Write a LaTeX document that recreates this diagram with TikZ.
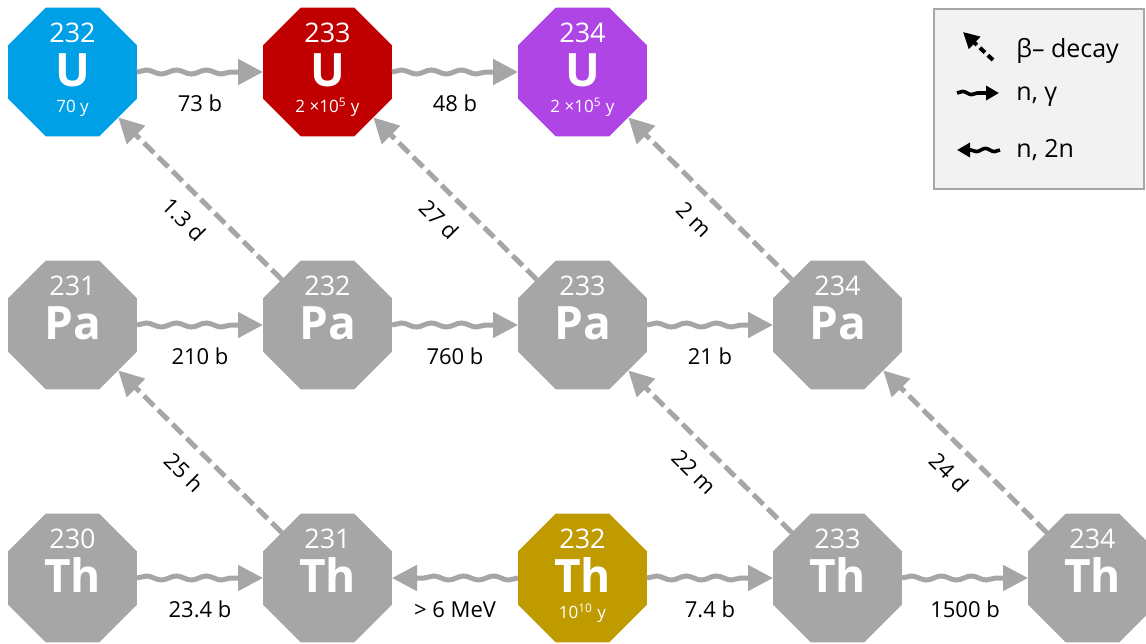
\documentclass[tikz,border=0pt]{standalone}
\usepackage{fontspec}
\setmainfont{Open Sans}
\usetikzlibrary{shapes.geometric,arrows.meta,decorations.pathmorphing,calc}

\definecolor{nucgray}{HTML}{A6A6A6}
\definecolor{ublue}{HTML}{00A0E6}
\definecolor{ured}{HTML}{C00000}
\definecolor{upurple}{HTML}{B045E6}
\definecolor{thgold}{HTML}{BF9B00}
\definecolor{legfill}{HTML}{F2F2F2}
\definecolor{legedge}{HTML}{A6A6A6}

\tikzset{
  octa/.style={regular polygon, regular polygon sides=8, minimum size=69.8pt,
    inner sep=0pt, outer sep=0pt, draw=none},
  massno/.style={anchor=base, text=white, inner sep=0pt,
    font=\fontsize{13.5}{14}\selectfont},
  elem/.style={anchor=base, text=white, inner sep=0pt,
    font=\fontsize{23}{24}\selectfont\bfseries},
  life/.style={anchor=base, text=white, inner sep=0pt,
    font=\fontsize{8.5}{9}\selectfont},
  capture/.style={draw=nucgray, line width=2.5pt, decorate,
    decoration={snake, amplitude=1pt, segment length=15pt, post length=12.5pt},
    -{Triangle[length=12.5pt,width=12.5pt]}},
  decay/.style={draw=nucgray, line width=2.5pt, dash pattern=on 7pt off 3pt,
    -{Triangle[length=12.5pt,width=12.5pt]}},
  xslbl/.style={anchor=base, inner sep=0pt, font=\fontsize{11}{12}\selectfont},
  hlbl/.style={anchor=center, inner sep=0pt, rotate=-45,
    font=\fontsize{11}{12}\selectfont},
  legtext/.style={anchor=base west, inner sep=0pt,
    font=\fontsize{12.5}{13}\selectfont},
  legdecay/.style={draw=black, line width=2pt, dash pattern=on 3.5pt off 2pt,
    -{Triangle[length=8pt,width=8pt]}},
  legwave/.style={draw=black, line width=1.8pt, decorate,
    decoration={snake, amplitude=0.8pt, segment length=9pt, post length=6.5pt},
    -{Triangle[length=6.5pt,width=7pt]}},
}

% nuclide: name, x, y, fill, mass number, symbol, half-life
\newcommand\nucl[7]{%
  \node[octa, fill=#4] (#1) at (#2,#3) {};
  \node[massno] (#1-a) at ($(#1)+(0,-30)$) {#5};
  \node[elem] (#1-s) at ($(#1)+(0,14.5)$) {#6};
  \node[life] (#1-t) at ($(#1)+(0,40)$) {#7};
}

\begin{document}
\begin{tikzpicture}[x=0.5pt, y=-0.5pt]
\useasboundingbox (0,0) rectangle (1146,643);

% uranium row
\nucl{U232}{72.5}{72}{ublue}{232}{U}{70 y}
\nucl{U233}{327.5}{72}{ured}{233}{U}{2 ×10\textsuperscript{5} y}
\nucl{U234}{582.5}{72}{upurple}{234}{U}{2 ×10\textsuperscript{5} y}

% protactinium row
\nucl{Pa231}{72.5}{325}{nucgray}{231}{Pa}{}
\nucl{Pa232}{327.5}{325}{nucgray}{232}{Pa}{}
\nucl{Pa233}{582.5}{325}{nucgray}{233}{Pa}{}
\nucl{Pa234}{837.5}{325}{nucgray}{234}{Pa}{}

% thorium row
\nucl{Th230}{72.5}{578}{nucgray}{230}{Th}{}
\nucl{Th231}{327.5}{578}{nucgray}{231}{Th}{}
\nucl{Th232}{582.5}{578}{thgold}{232}{Th}{10\textsuperscript{10} y}
\nucl{Th233}{837.5}{578}{nucgray}{233}{Th}{}
\nucl{Th234}{1092.5}{578}{nucgray}{234}{Th}{}

% neutron capture / (n,2n) reactions
\foreach \a/\b/\t in {U232/U233/73 b, U233/U234/48 b,
    Pa231/Pa232/210 b, Pa232/Pa233/760 b, Pa233/Pa234/21 b,
    Th230/Th231/23.4 b, Th232/Th231/{> 6 MeV}, Th232/Th233/7.4 b,
    Th233/Th234/1500 b}{
  \draw[capture] (\a) -- (\b);
  \node[xslbl] (lbl-\a-\b) at ($(\a)!0.5!(\b)+(0,39)$) {\t};
}

% beta-minus decays
\foreach \a/\b/\t in {Pa232/U232/1.3 d, Pa233/U233/27 d, Pa234/U234/2 m,
    Th231/Pa231/25 h, Th233/Pa233/22 m, Th234/Pa234/24 d}{
  \draw[decay] (\a) -- (\b);
  \node[hlbl] (lbl-\a-\b) at ($(\a)!0.5!(\b)+(-16,21)$) {\t};
}

% legend
\node[draw=legedge, fill=legfill, line width=1pt, anchor=north west,
  minimum width=105pt, minimum height=90pt, inner sep=0pt] (legend) at (933,8) {};
\coordinate (lgb-s) at (993,60);
\coordinate (lgb-e) at (963,32);
\draw[legdecay] (lgb-s) -- (lgb-e);
\node[legtext] (lgb-t) at (1016,57) {β– decay};
\coordinate (lgc-s) at (957,93);
\coordinate (lgc-e) at (999,93);
\draw[legwave] (lgc-s) -- (lgc-e);
\node[legtext] (lgc-t) at (1016,100) {n, γ};
\coordinate (lgn-s) at (1000,150);
\coordinate (lgn-e) at (957,150);
\draw[legwave] (lgn-s) -- (lgn-e);
\node[legtext] (lgn-t) at (1016,157) {n, 2n};
\end{tikzpicture}
\end{document}
